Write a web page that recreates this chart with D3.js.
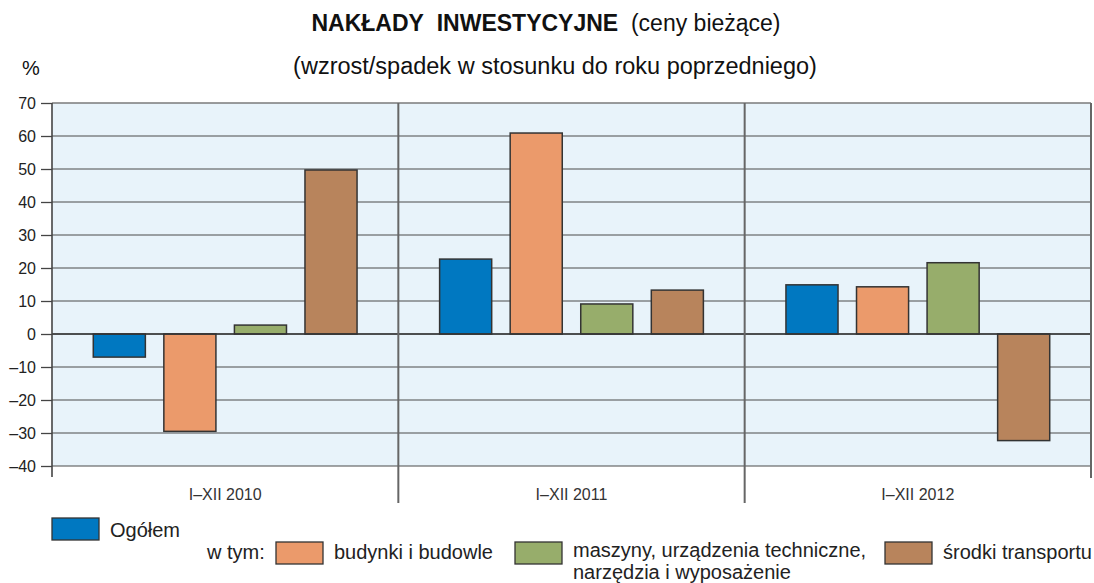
<!DOCTYPE html>
<html>
<head>
<meta charset="utf-8">
<script src="https://cdn.jsdelivr.net/npm/d3@7"></script>
<style>
  body { margin: 0; background: #fff; }
  svg { font-family: 'Liberation Sans', Arial, sans-serif; }
</style>
</head>
<body>
<svg id="chart" width="1094" height="583"></svg>
<script>
const categories = ['I–XII 2010', 'I–XII 2011', 'I–XII 2012'];
const seriesNames = ['Ogółem', 'budynki i budowle', 'maszyny, urządzenia techniczne, narzędzia i wyposażenie', 'środki transportu'];
const ogolem = [-7, 22.7, 14.9];
const budynki = [-29.5, 60.9, 14.3];
const maszyny = [2.7, 9.1, 21.6];
const transport = [49.7, 13.3, -32.3];
const yTicks = [-40, -30, -20, -10, 0, 10, 20, 30, 40, 50, 60, 70];
const colors = ['#0078c1', '#eb9a6b', '#97ad6b', '#b8845c'];

const seriesValues = [ogolem, budynki, maszyny, transport];

const w = 1094, h = 583;
const plotL = 52, plotR = 1091, plotT = 103, plotB = 466;

const svg = d3.select('#chart');

const x0 = d3.scaleBand().domain(categories).range([plotL, plotR]);
const x1 = d3.scaleBand().domain(d3.range(4)).range([0, x0.bandwidth()])
  .paddingInner(0.262).paddingOuter(0.585);
const y = d3.scaleLinear().domain([-40, 70]).range([plotB, plotT]);

/* background */
svg.append('rect').attr('x', plotL).attr('y', plotT)
  .attr('width', plotR - plotL).attr('height', plotB - plotT)
  .attr('fill', '#e8f3fa');

/* grid */
svg.append('g').selectAll('line').data(yTicks).enter()
  .append('line')
  .attr('x1', plotL).attr('x2', plotR)
  .attr('y1', d => y(d)).attr('y2', d => y(d))
  .attr('stroke', d => d === 70 ? '#7a7a7a' : '#4a4a4a')
  .attr('stroke-width', d => d === 70 ? 1.6 : 1);

/* bars */
const groups = svg.append('g').selectAll('g').data(categories).enter()
  .append('g').attr('transform', d => `translate(${x0(d)},0)`);
groups.selectAll('rect')
  .data((d, i) => seriesValues.map((s, j) => ({ s: j, v: s[i] })))
  .enter().append('rect')
  .attr('x', d => x1(d.s))
  .attr('width', x1.bandwidth())
  .attr('y', d => y(Math.max(0, d.v)))
  .attr('height', d => Math.abs(y(d.v) - y(0)))
  .attr('fill', d => colors[d.s])
  .attr('stroke', '#333')
  .attr('stroke-width', 1.5);

/* zero line */
svg.append('line').attr('x1', plotL).attr('x2', plotR)
  .attr('y1', y(0)).attr('y2', y(0))
  .attr('stroke', '#333').attr('stroke-width', 1.3);

/* group dividers */
svg.append('g').selectAll('line').data(categories.slice(1)).enter()
  .append('line')
  .attr('x1', d => x0(d)).attr('x2', d => x0(d))
  .attr('y1', plotT).attr('y2', 503)
  .attr('stroke', '#666').attr('stroke-width', 2);
svg.append('line').attr('x1', plotR).attr('x2', plotR)
  .attr('y1', plotT).attr('y2', 478)
  .attr('stroke', '#666').attr('stroke-width', 2);

/* y axis */
const yAxis = d3.axisLeft(y).tickValues(yTicks).tickSize(11)
  .tickFormat(d => d < 0 ? '–' + Math.abs(d) : d);
const ya = svg.append('g').attr('transform', `translate(${plotL},0)`).call(yAxis);
ya.select('.domain').remove();
ya.selectAll('.tick line').attr('stroke', '#444').attr('stroke-width', 1.3);
ya.selectAll('.tick text').attr('x', -16).attr('fill', '#222')
  .style('font-size', '16px').style('font-family', "'Liberation Sans', Arial, sans-serif");
svg.append('line').attr('x1', plotL).attr('x2', plotL)
  .attr('y1', plotT).attr('y2', 477)
  .attr('stroke', '#444').attr('stroke-width', 1.6);

/* x labels */
svg.append('g').selectAll('text').data(categories).enter()
  .append('text')
  .attr('x', d => x0(d) + x0.bandwidth() / 2)
  .attr('y', 500)
  .attr('text-anchor', 'middle')
  .style('font-size', '16px').attr('fill', '#333')
  .text(d => d);

/* titles */
const title = svg.append('text').attr('x', 546).attr('y', 31).attr('text-anchor', 'middle')
  .style('font-size', '23px').attr('fill', '#111');
title.append('tspan').attr('font-weight', 'bold').text('NAKŁADY\u00a0\u00a0INWESTYCYJNE');
title.append('tspan').text('\u00a0\u00a0(ceny bieżące)');
svg.append('text').attr('x', 555).attr('y', 74).attr('text-anchor', 'middle')
  .style('font-size', '23.5px').attr('fill', '#111')
  .text('(wzrost/spadek w stosunku do roku poprzedniego)');
svg.append('text').attr('x', 22).attr('y', 75)
  .style('font-size', '20px').attr('fill', '#111').text('%');

/* legend */
const legendItems = [
  { s: 0, x: 52, y: 518, ty: 19, label: ['Ogółem'] },
  { s: 1, x: 276, y: 542, ty: 17, label: ['budynki i budowle'] },
  { s: 2, x: 515, y: 542, ty: 15, label: ['maszyny, urządzenia techniczne,', 'narzędzia i wyposażenie'] },
  { s: 3, x: 885, y: 542, ty: 17, label: ['środki transportu'] }
];
const lg = svg.append('g').selectAll('g').data(legendItems).enter()
  .append('g').attr('transform', d => `translate(${d.x},${d.y})`);
lg.append('rect').attr('width', 47).attr('height', 22)
  .attr('fill', d => colors[d.s]).attr('stroke', '#333').attr('stroke-width', 1.3);
lg.append('text').attr('y', d => d.ty)
  .style('font-size', '20px').attr('fill', '#222')
  .selectAll('tspan').data(d => d.label).enter()
  .append('tspan').attr('x', 58).attr('dy', (d, i) => i === 0 ? 0 : 22).text(d => d);
svg.append('text').attr('x', 207).attr('y', 559)
  .style('font-size', '20px').attr('fill', '#222').text('w tym:');
</script>
</body>
</html>
